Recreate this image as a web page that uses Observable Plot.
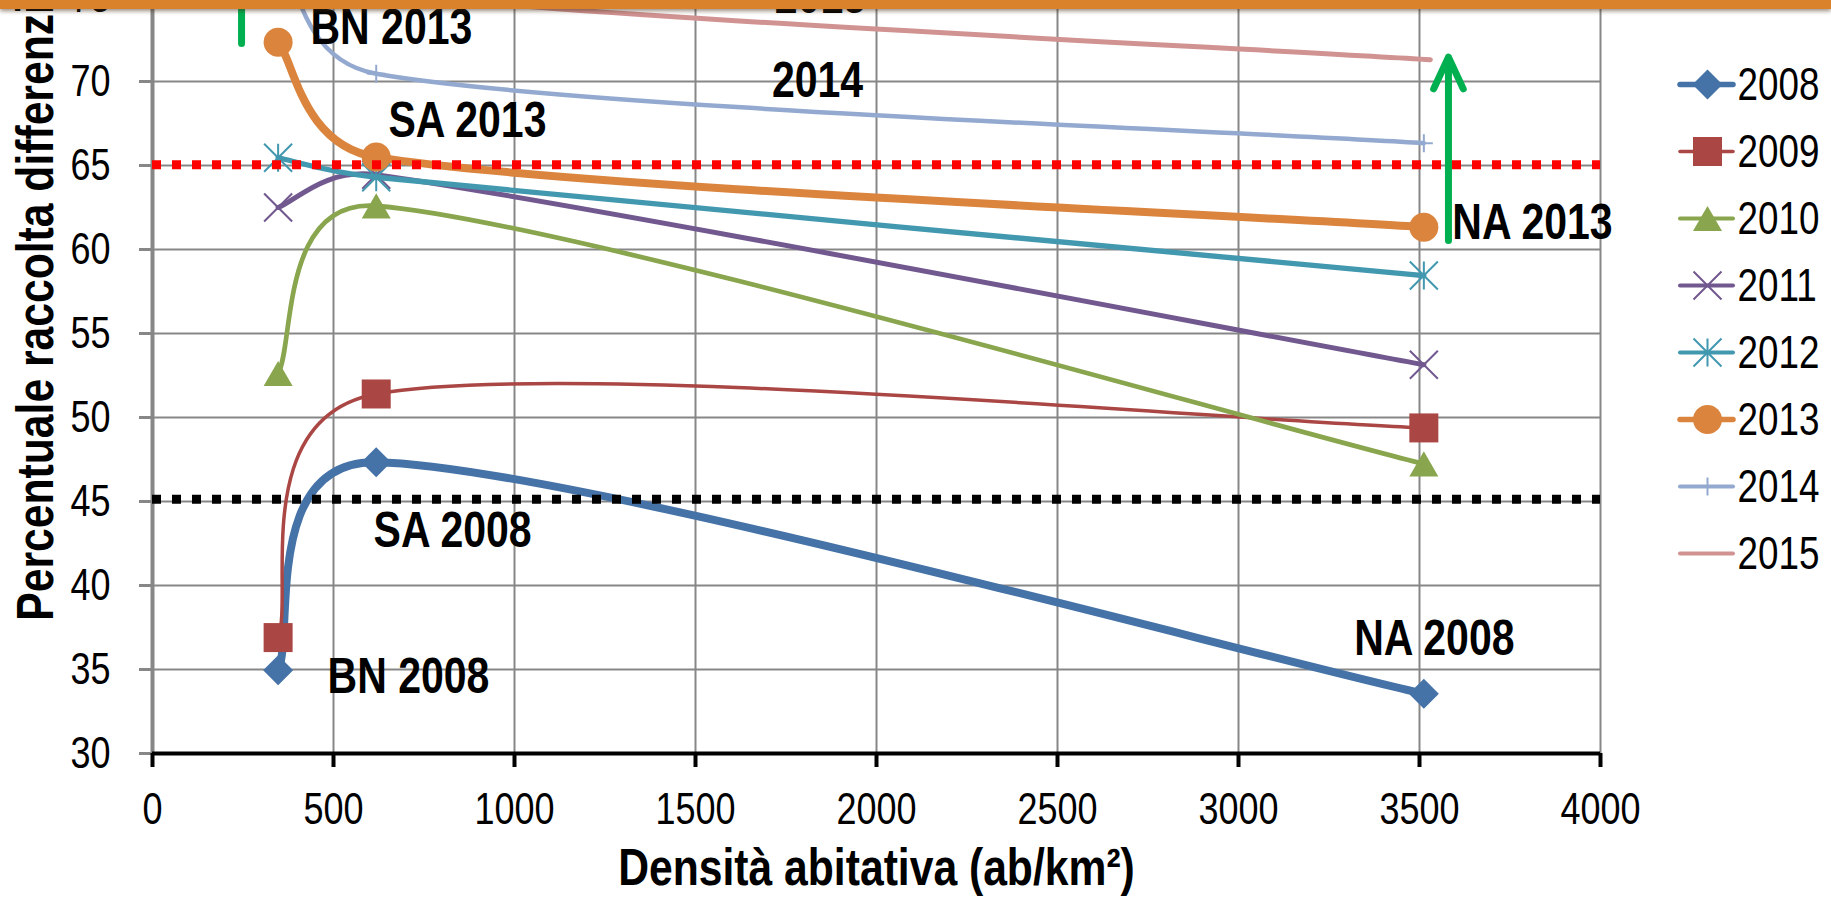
<!DOCTYPE html>
<html><head><meta charset="utf-8">
<script src="https://cdn.jsdelivr.net/npm/d3@7"></script>
<script src="https://cdn.jsdelivr.net/npm/@observablehq/plot@0.6"></script>
<style>
html,body{margin:0;padding:0;background:#fff;overflow:hidden}
#wrap{position:relative;width:1831px;height:898px;overflow:hidden;background:#fff}
#chart{position:absolute;left:0;top:-100px}
#legend{position:absolute;left:1671px;top:0}
#bar{position:absolute;left:0;top:0;width:1831px;height:9px;background:#d9822b;box-shadow:0 2px 4px rgba(70,45,20,.55)}
</style></head><body>
<div id="wrap"><div id="chart"></div><div id="legend"></div><div id="bar"></div></div>
<script>
// ---------- data ----------
const zones = ["BN", "SA", "NA"];
const density = [347, 618, 3512];          // ab/km2 for BN, SA, NA
const density2015 = [347, 618, 3530];
const years = [2008, 2009, 2010, 2011, 2012, 2013, 2014, 2015];
const v2008 = [34.95, 47.34, 33.55];
const v2009 = [36.9, 51.4, 49.38];
const v2010 = [52.62, 62.6, 47.24];
const v2011 = [62.5, 64.45, 53.14];
const v2012 = [65.46, 64.3, 58.45];
const v2013 = [72.34, 65.5, 61.33];
const v2014 = [78.5, 70.46, 66.33];
const v2015 = [80.0, 75.3, 71.3];
const xTicks = [0, 500, 1000, 1500, 2000, 2500, 3000, 3500, 4000];
const yTicks = [30, 35, 40, 45, 50, 55, 60, 65, 70, 75];
const targets = [45.13, 65.05];            // dotted reference lines (SA 2008 45%, SA 2013 65%)
const arrows = [{x: 246, y1: 72.26, y2: 80}, {x: 3580, y1: 60.54, y2: 71.45}];
const labels = [
  {text: "BN 2013", x: 660, y: 72.26},
  {text: "SA 2013", x: 870, y: 66.67},
  {text: "2014", x: 1837, y: 69.05},
  {text: "2015", x: 1845, y: 74.05},
  {text: "NA 2013", x: 3812, y: 60.65},
  {text: "SA 2008", x: 829, y: 42.32},
  {text: "BN 2008", x: 707, y: 33.63},
  {text: "NA 2008", x: 3541, y: 35.89}
];
const xTitle = "Densità abitativa (ab/km²)";
const yTitle = "Percentuale raccolta differenziata";
const yTitlePos = [58.15];

const seriesValues = [v2008, v2009, v2010, v2011, v2012, v2013, v2014, v2015];
const rows = years.map((yr, k) => zones.map((z, i) => ({
  year: yr, zone: z, x: (yr === 2015 ? density2015 : density)[i], y: seriesValues[k][i]
})));

// ---------- symbols (Excel-like markers) ----------
const symDiamond = {draw(c, s){ const r = Math.sqrt(s)/2; c.moveTo(0,-r); c.lineTo(r,0); c.lineTo(0,r); c.lineTo(-r,0); c.closePath(); }};
const symSquare = {draw(c, s){ const r = Math.sqrt(s)/2; c.rect(-r,-r,2*r,2*r); }};
const symTriangle = {draw(c, s){ const a = Math.sqrt(s); const h = a*Math.sqrt(3)/2; c.moveTo(0,-h/2); c.lineTo(a/2,h/2); c.lineTo(-a/2,h/2); c.closePath(); }};
const symX = {draw(c, s){ const r = Math.sqrt(s)/2; c.moveTo(-r,-r); c.lineTo(r,r); c.moveTo(-r,r); c.lineTo(r,-r); }};
const symStar = {draw(c, s){ const r = Math.sqrt(s)/2; c.moveTo(0,-r); c.lineTo(0,r); c.moveTo(-r,-r); c.lineTo(r,r); c.moveTo(-r,r); c.lineTo(r,-r); }};
const symPlus = {draw(c, s){ const r = Math.sqrt(s)/2; c.moveTo(0,-r); c.lineTo(0,r); c.moveTo(-r,0); c.lineTo(r,0); }};
const R = d => d / Math.sqrt(Math.PI);

const styles = {
  2008: {color: "#4572A7", w: 8,   lw: 5.5, symbol: symDiamond, r: R(30), filled: true},
  2009: {color: "#AA4643", w: 3.5, lw: 3.5, symbol: symSquare, r: R(29), filled: true},
  2010: {color: "#89A54E", w: 4.7, lw: 4,   symbol: symTriangle, r: R(29), filled: true},
  2011: {color: "#71588F", w: 5,   lw: 4,   symbol: symX, r: R(28), filled: false},
  2012: {color: "#4198AF", w: 5.3, lw: 4,   symbol: symStar, r: R(28), filled: false},
  2013: {color: "#DB843D", w: 8,   lw: 5.5, symbol: "circle", r: 14.5, filled: true},
  2014: {color: "#93A9CF", w: 4.5, lw: 4,   symbol: symPlus, r: R(18), filled: false},
  2015: {color: "#D19392", w: 5,   lw: 4,   symbol: null}
};

// ---------- Excel smoothed-line curve ----------
function excelSmooth(context) {
  let pts = [];
  const dist = (a, b) => Math.hypot(b[0]-a[0], b[1]-a[1]);
  return {
    areaStart(){}, areaEnd(){},
    lineStart(){ pts = []; },
    point(x, y){ pts.push([+x, +y]); },
    lineEnd(){
      const n = pts.length;
      if (!n) return;
      context.moveTo(pts[0][0], pts[0][1]);
      for (let i = 0; i < n - 1; i++) {
        const p0 = pts[Math.max(i-1, 0)], p1 = pts[i], p2 = pts[i+1], p3 = pts[Math.min(i+2, n-1)];
        const d12 = dist(p1, p2), d02 = dist(p0, p2), d13 = dist(p1, p3);
        let f1 = 1/6, f2 = 1/6;
        if (d02 > 0 && d02/6 >= d12/2) f1 = d12/(2*d02);
        if (d13 > 0 && d13/6 >= d12/2) f2 = d12/(2*d13);
        context.bezierCurveTo(
          p1[0] + (p2[0]-p0[0])*f1, p1[1] + (p2[1]-p0[1])*f1,
          p2[0] - (p3[0]-p1[0])*f2, p2[1] - (p3[1]-p1[1])*f2,
          p2[0], p2[1]);
      }
    }
  };
}

// ---------- marks ----------
const FONT = "'Liberation Sans', Arial, Helvetica, sans-serif";
const grid = "#878787";
const marks = [
  Plot.ruleX(xTicks.filter(d => d > 0), {stroke: grid, strokeWidth: 2}),
  Plot.ruleY(yTicks.filter(d => d > 30), {stroke: grid, strokeWidth: 2}),
  Plot.ruleX([0], {stroke: grid, strokeWidth: 4}),
  Plot.axisY({ticks: yTicks, tickSize: 13, tickPadding: 29, stroke: grid, strokeWidth: 3, fontSize: 45, fill: "black", label: null, tickFormat: d => String(d)}),
  Plot.ruleY([30], {x1: 0, x2: 4000, stroke: "black", strokeWidth: 4}),
  Plot.axisX({ticks: xTicks, tickSize: 14, tickPadding: 25, stroke: "black", strokeWidth: 4, fontSize: 45, fill: "black", label: null, tickFormat: d => String(d)})
];
years.forEach((yr, k) => {
  const s = styles[yr];
  marks.push(Plot.line(rows[k], {x: "x", y: "y", stroke: s.color, strokeWidth: s.w, curve: excelSmooth, strokeLinecap: "round", strokeLinejoin: "round"}));
  if (s.symbol) marks.push(Plot.dot(rows[k], {x: "x", y: "y", symbol: s.symbol, r: s.r,
    fill: s.filled ? s.color : "none", stroke: s.filled ? "none" : s.color, strokeWidth: s.filled ? 0 : 2}));
});
marks.push(
  Plot.ruleY([targets[0]], {x1: 0, x2: 4000, stroke: "black", strokeWidth: 9, strokeDasharray: "9,11"}),
  Plot.ruleY([targets[1]], {x1: 0, x2: 4000, stroke: "#FF0000", strokeWidth: 9, strokeDasharray: "9,11"}),
  Plot.arrow(arrows, {x: "x", y1: "y1", y2: "y2", stroke: "#00B050", strokeWidth: 7, headAngle: 50, headLength: 7.5, strokeLinecap: "round", strokeLinejoin: "round"}),
  Plot.text(labels, {x: "x", y: "y", text: "text", textAnchor: "middle", lineAnchor: "bottom", fontSize: 50, fontWeight: "bold", fill: "black"}),
  Plot.text([xTitle], {frameAnchor: "bottom", dy: 131, lineAnchor: "bottom", fontSize: 52, fontWeight: "bold", fill: "black"}),
  Plot.text(yTitlePos, {y: d => d, frameAnchor: "left", dx: -100, text: () => yTitle, rotate: -90, lineAnchor: "bottom", textAnchor: "middle", fontSize: 52, fontWeight: "bold", fill: "black"})
);

const chart = Plot.plot({
  width: 1831, height: 998,
  marginLeft: 152, marginRight: 231, marginTop: 13, marginBottom: 145,
  x: {domain: [0, 4000]},
  y: {domain: [30, 80]},
  style: {fontFamily: FONT, background: "white", overflow: "visible"},
  marks
});
document.getElementById("chart").appendChild(chart);

// ---------- legend ----------
const legendMarks = [];
years.forEach(yr => {
  const s = styles[yr];
  legendMarks.push(Plot.ruleY([yr], {x1: 9, x2: 62, stroke: s.color, strokeWidth: s.lw, strokeLinecap: "round"}));
  if (s.symbol) legendMarks.push(Plot.dot([yr], {x: 36, y: d => d, symbol: s.symbol, r: s.r,
    fill: s.filled ? s.color : "none", stroke: s.filled ? "none" : s.color, strokeWidth: s.filled ? 0 : 2}));
});
legendMarks.push(Plot.text(years, {x: 66, y: d => d, text: d => String(d), textAnchor: "start", lineAnchor: "middle", dy: 1, fontSize: 46, fill: "black"}));
const legend = Plot.plot({
  width: 160, height: 600, margin: 0,
  x: {domain: [0, 160], range: [0, 160], axis: null},
  y: {domain: [2008, 2015], range: [84, 553], axis: null},
  style: {fontFamily: FONT, background: "transparent", overflow: "visible"},
  marks: legendMarks
});
document.getElementById("legend").appendChild(legend);

// ---------- narrow (Arial Narrow-like) text ----------
function squeeze(svg) {
  svg.querySelectorAll("text").forEach(t => {
    const L = t.getComputedTextLength();
    if (!(L > 0)) return;
    const bold = parseInt(getComputedStyle(t).fontWeight) >= 600;
    t.setAttribute("textLength", (L * (bold ? 0.82 : 0.80)).toFixed(2));
    t.setAttribute("lengthAdjust", "spacingAndGlyphs");
  });
}
squeeze(chart); squeeze(legend);
</script>
</body></html>
